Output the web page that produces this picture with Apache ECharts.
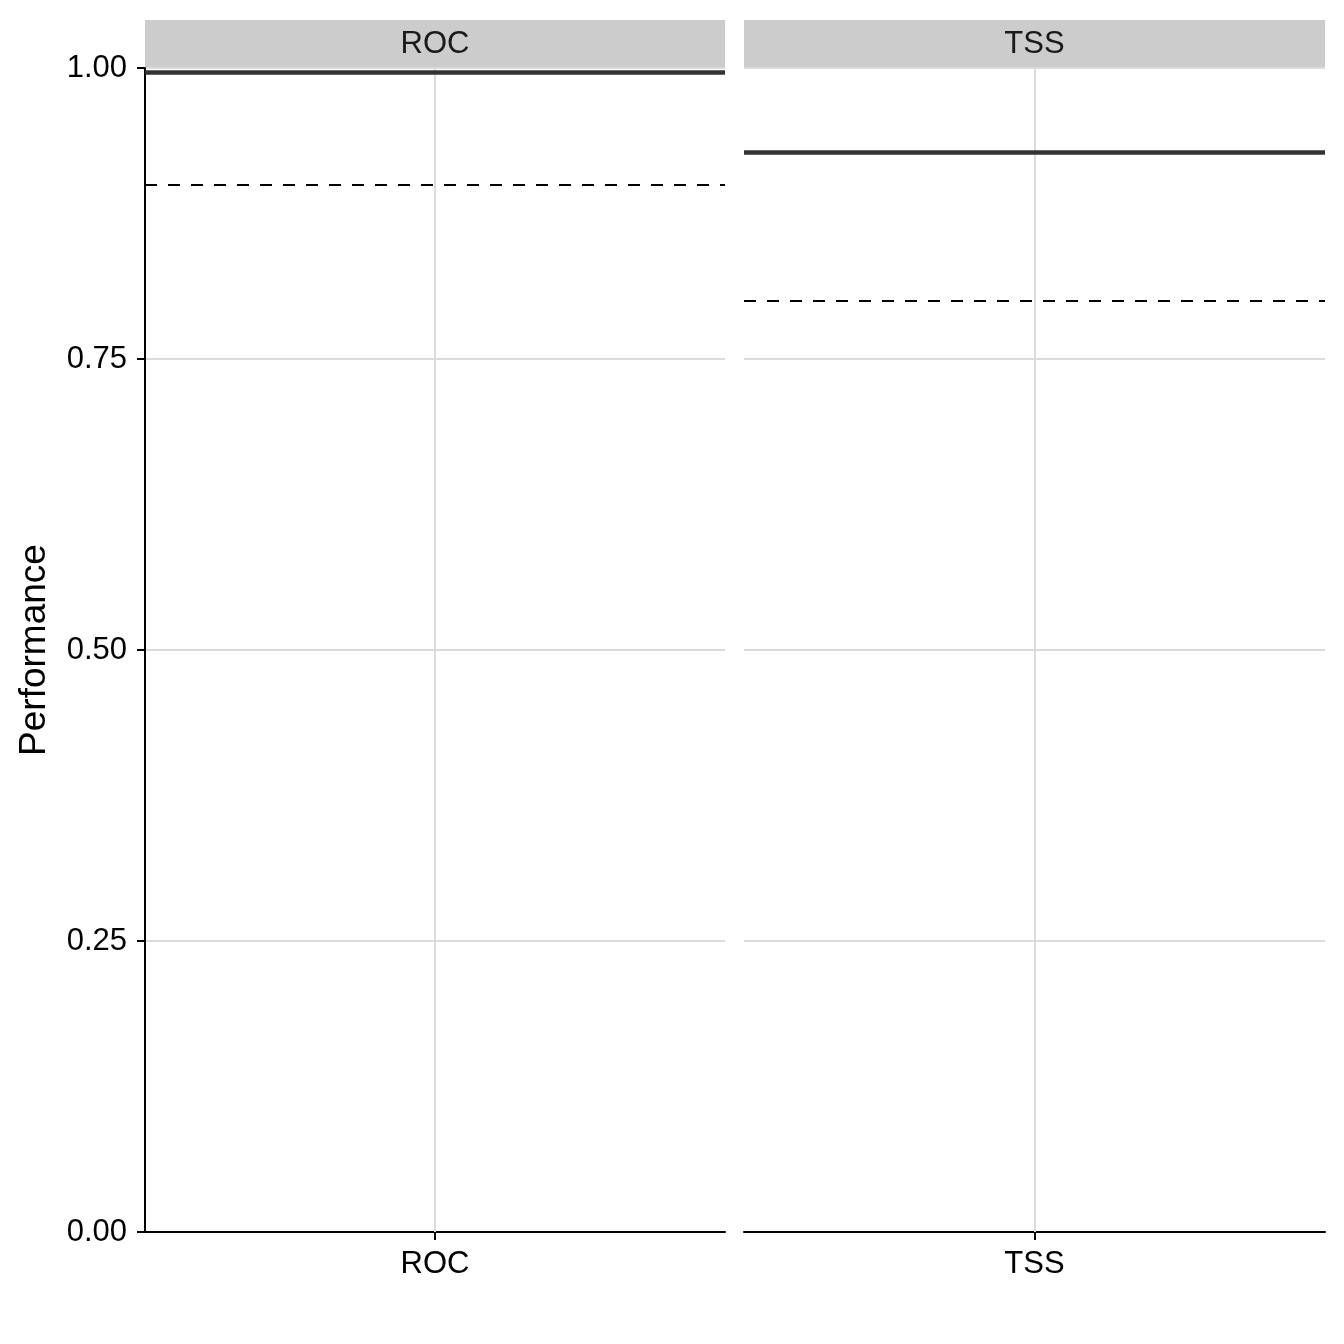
<!DOCTYPE html>
<html><head><meta charset="utf-8">
<script src="https://cdn.jsdelivr.net/npm/echarts@6/dist/echarts.min.js"></script>
<style>html,body{margin:0;padding:0;background:#fff}#c{width:1344px;height:1344px}</style>
</head><body><div id="c"></div>
<script>
const facets = ['ROC', 'TSS'];
const meanValues = [0.996, 0.928];      // solid lines
const thresholdValues = [0.9, 0.8];     // dashed lines
const yTicks = [0, 0.25, 0.5, 0.75, 1];
const yTitle = 'Performance';

const FONT = 'Liberation Sans, Arial, Helvetica, sans-serif';
const panels = [{left: 145, width: 580}, {left: 744, width: 581}];
const gridTop = 68, gridHeight = 1164;

const chart = echarts.init(document.getElementById('c'), null, {renderer: 'canvas'});
const grid = [], xAxis = [], yAxis = [], series = [], graphic = [];
facets.forEach((f, i) => {
  grid.push({left: panels[i].left, width: panels[i].width, top: gridTop, height: gridHeight, containLabel: false});
  xAxis.push({
    type: 'category', gridIndex: i, data: [f],
    axisLine: {show: true, lineStyle: {color: '#000', width: 2}},
    axisTick: {show: true, alignWithLabel: true, length: 8, lineStyle: {color: '#000', width: 2}},
    axisLabel: {show: true, color: '#000', fontSize: 31, fontFamily: FONT, margin: 17},
    splitLine: {show: false}
  });
  yAxis.push({
    type: 'value', gridIndex: i, min: yTicks[0], max: yTicks[yTicks.length - 1], interval: 0.25,
    name: i === 0 ? yTitle : '', nameLocation: 'middle', nameGap: 92,
    nameTextStyle: {fontSize: 37, color: '#000', fontFamily: FONT},
    axisLine: {show: i === 0, lineStyle: {color: '#000', width: 2}},
    axisTick: {show: i === 0, length: 8, lineStyle: {color: '#000', width: 2}},
    axisLabel: {show: i === 0, color: '#000', fontSize: 31, fontFamily: FONT, margin: 18,
      formatter: v => v.toFixed(2)},
    splitLine: {show: true, lineStyle: {color: '#DBDBDB', width: 2}}
  });
  series.push({
    type: 'line', xAxisIndex: i, yAxisIndex: i, data: [], silent: true,
    markLine: {
      silent: true, symbol: ['none', 'none'], label: {show: false}, animation: false, precision: 4,
      data: [
        {xAxis: f, lineStyle: {color: '#DBDBDB', width: 2, type: 'solid'}},
        {yAxis: thresholdValues[i], lineStyle: {color: '#000', width: 2, type: [12, 11]}},
        {yAxis: meanValues[i], lineStyle: {color: '#333333', width: 4.5, type: 'solid'}}
      ]
    }
  });
  graphic.push({
    type: 'rect', shape: {x: panels[i].left, y: 20, width: panels[i].width, height: 47},
    style: {fill: '#CCCCCC'}, silent: true, z: 0
  });
  graphic.push({
    type: 'text', x: panels[i].left + panels[i].width / 2, y: 44,
    style: {text: f, fill: '#1A1A1A', fontSize: 31, fontFamily: FONT, textAlign: 'center', textVerticalAlign: 'middle'},
    silent: true, z: 1
  });
});

chart.setOption({
  animation: false,
  backgroundColor: '#fff',
  grid, xAxis, yAxis, series, graphic
});
</script></body></html>
